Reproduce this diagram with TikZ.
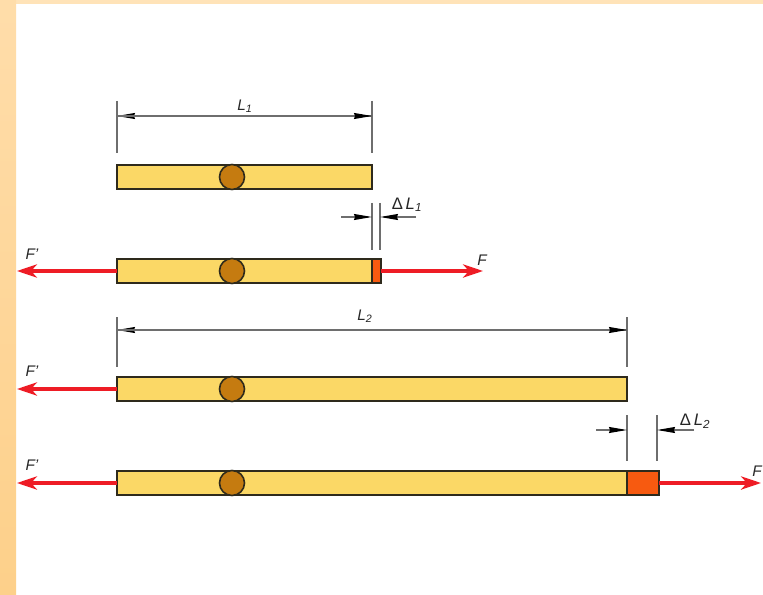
\documentclass[tikz,border=0pt]{standalone}
\usepackage{fontspec}
\setmainfont{Liberation Sans}
\usetikzlibrary{arrows.meta,positioning}
\definecolor{barfill}{HTML}{FBD866}
\definecolor{barline}{HTML}{2E2A1C}
\definecolor{pinfill}{HTML}{C57B10}
\definecolor{extfill}{HTML}{F75A10}
\definecolor{forcered}{HTML}{EE1C25}
\definecolor{dimgray}{HTML}{6E6E6E}
\definecolor{frametop}{HTML}{FFE3B8}
\definecolor{frameleft}{HTML}{FFDDAA}
\definecolor{framelow}{HTML}{FDD08A}
\newlength{\pxu}\setlength{\pxu}{0.75pt}
\tikzset{
  x=\pxu,y=-\pxu,
  barbox/.style={draw=barline,line width=1.2pt,fill=barfill,minimum height=18pt,inner sep=0pt,outer sep=0pt,anchor=north west},
  extbox/.style={barbox,fill=extfill},
  pin/.style={circle,draw=barline,line width=1.2pt,fill=pinfill,minimum size=18.75pt,inner sep=0pt,outer sep=0pt},
  force/.style={draw=forcered,line width=2.3pt,-{Stealth[length=15pt,width=10pt,inset=4.5pt]}},
  dimline/.style={draw=dimgray,line width=0.8pt},
  dimarrow/.style={dimline,-{Stealth[length=13.5pt,width=4.5pt,inset=0.75pt,black]}},
  extline/.style={draw=dimgray,line width=0.9pt},
  lab/.style={font=\fontsize{11.5pt}{13pt}\selectfont\itshape,text=black!85,inner sep=0pt},
  dlab/.style={lab,font=\fontsize{12.5pt}{14pt}\selectfont\itshape},
}
\begin{document}
\begin{tikzpicture}
\useasboundingbox (0,0) rectangle (763,595);
\fill[white] (0,0) rectangle (763,595);
\fill[frametop] (0,0) rectangle (763,4);
\fill[top color=frameleft,bottom color=framelow] (0,0) rectangle (16,595);
% bars
\node[barbox,minimum width=191.25pt] (b1) at (117,165) {};
\node[pin] (p1) at (232,177) {};
\node[barbox,minimum width=191.25pt] (b2) at (117,259) {};
\node[extbox,minimum width=6.75pt] (e2) at (372,259) {};
\node[pin] (p2) at (232,271) {};
\node[barbox,minimum width=382.5pt] (b3) at (117,377) {};
\node[pin] (p3) at (232,389) {};
\node[barbox,minimum width=382.5pt] (b4) at (117,471) {};
\node[extbox,minimum width=24pt] (e4) at (627,471) {};
\node[pin] (p4) at (232,483) {};
% force ends
\coordinate (f2l) at (17,271);
\coordinate (f2r) at (483,271);
\coordinate (f3l) at (17,389);
\coordinate (f4l) at (17,483);
\coordinate (f4r) at (761,483);
\draw[force] (b2.west) -- (f2l);
\draw[force] (e2.east) -- (f2r);
\draw[force] (b3.west) -- (f3l);
\draw[force] (b4.west) -- (f4l);
\draw[force] (e4.east) -- (f4r);
\node[lab] (tf2l) at (32,254) {F'};
\node[lab] (tf2r) at (482,260) {F};
\node[lab] (tf3l) at (32,371) {F'};
\node[lab] (tf4l) at (32,465) {F'};
\node[lab] (tf4r) at (757,471) {F};
% L1
\coordinate (a1) at (117,101); \coordinate (a2) at (117,153);
\coordinate (a3) at (372,101); \coordinate (a4) at (372,153);
\draw[extline] (a1) -- (a2);
\draw[extline] (a3) -- (a4);
\coordinate (l1a) at (117,116); \coordinate (l1b) at (372,116);
\draw[dimarrow] (l1b) -- (l1a);
\draw[dimarrow] (l1a) -- (l1b);
\node[lab] (tl1) at (245,106) {L\textsubscript{1}};
% L2
\coordinate (c1) at (117,317); \coordinate (c2) at (117,367);
\coordinate (c3) at (627,317); \coordinate (c4) at (627,367);
\draw[extline] (c1) -- (c2);
\draw[extline] (c3) -- (c4);
\coordinate (l2a) at (117,330); \coordinate (l2b) at (627,330);
\draw[dimarrow] (l2b) -- (l2a);
\draw[dimarrow] (l2a) -- (l2b);
\node[lab] (tl2) at (365,316) {L\textsubscript{2}};
% Delta L1
\coordinate (d1) at (372,203); \coordinate (d2) at (372,250);
\coordinate (d3) at (380,203); \coordinate (d4) at (380,250);
\draw[extline] (d1) -- (d2);
\draw[extline] (d3) -- (d4);
\coordinate (d5) at (341,217); \coordinate (d6) at (372,217);
\coordinate (d7) at (416,217); \coordinate (d8) at (380,217);
\draw[dimarrow] (d5) -- (d6);
\draw[dimarrow] (d7) -- (d8);
\node[dlab] (td1) at (407,205) {{\upshape Δ}\,L\textsubscript{1}};
% Delta L2
\coordinate (g1) at (627,415); \coordinate (g2) at (627,461);
\coordinate (g3) at (657,415); \coordinate (g4) at (657,461);
\draw[extline] (g1) -- (g2);
\draw[extline] (g3) -- (g4);
\coordinate (g5) at (596,430); \coordinate (g6) at (627,430);
\coordinate (g7) at (694,430); \coordinate (g8) at (657,430);
\draw[dimarrow] (g5) -- (g6);
\draw[dimarrow] (g7) -- (g8);
\node[dlab] (td2) at (695,421) {{\upshape Δ}\,L\textsubscript{2}};
\end{tikzpicture}
\end{document}
